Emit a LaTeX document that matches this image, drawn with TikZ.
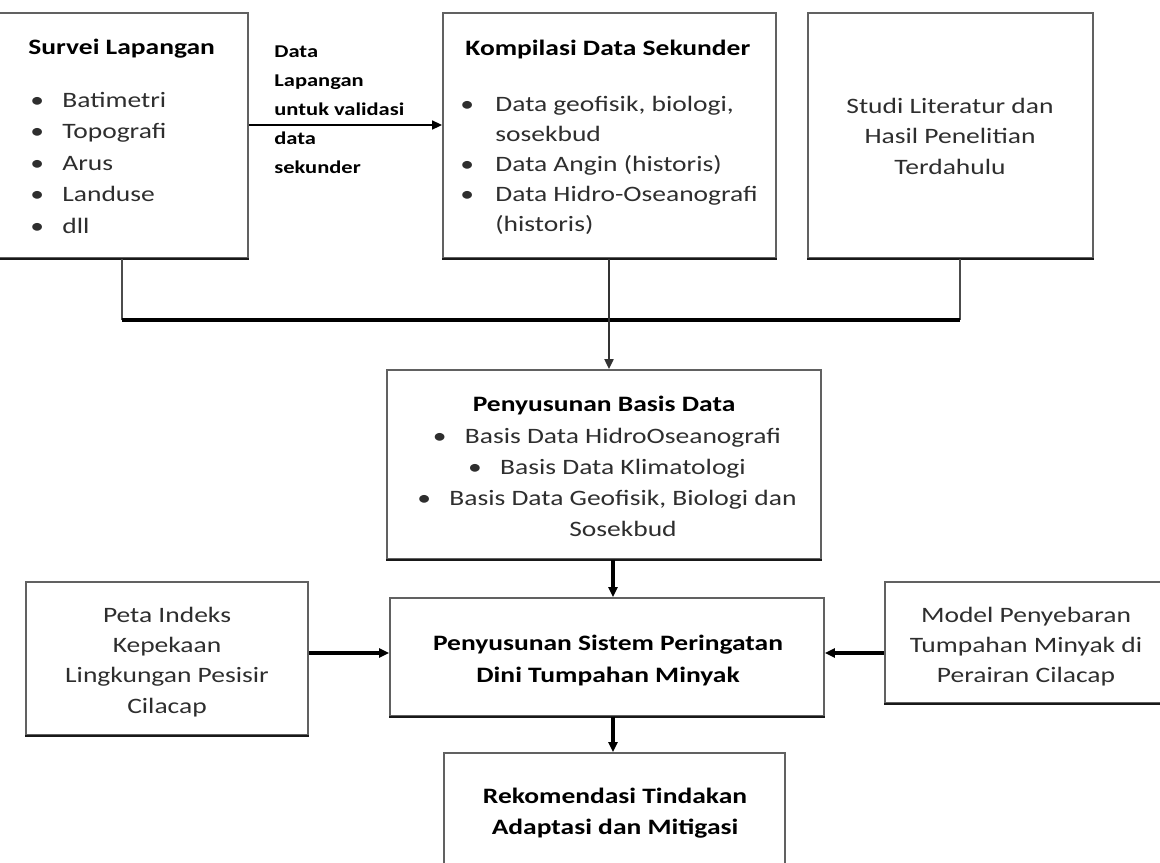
\documentclass[tikz,border=0pt]{standalone}
\usepackage{fontspec}
\setmainfont{Carlito}[FakeStretch=1.25]
\usetikzlibrary{arrows.meta,fit,calc}
\newcommand\dgblt[1]{\makebox[#1][l]{•}}
\begin{document}
\begin{tikzpicture}[x=0.5pt,y=-0.5pt,
  box/.style={draw=black!62, line width=0.9pt, inner sep=0pt},
  boxbottom/.style={draw=black!90, line width=1.4pt},
  lbl/.style={inner sep=0pt, text=black!82},
  ttl/.style={inner sep=0pt, text=black, font=\bfseries},
  thinline/.style={draw=black!70, line width=1pt},
  thickline/.style={draw=black, line width=1.6pt},
  arr/.style={-{Triangle[length=5pt,width=4.5pt]}},
]
\useasboundingbox (0,0) rectangle (1160,862);
\clip (0,0) rectangle (1160,862);

% boxes
\node[box, fit={(-4,13) (248,258)}] (b1) {};
\node[box, fit={(443,13) (776,258)}] (b2) {};
\node[box, fit={(808,13) (1093,258)}] (b3) {};
\node[box, fit={(387,370) (821,559)}] (b4) {};
\node[box, fit={(390,598) (824,716)}] (b5) {};
\node[box, fit={(26,582) (308,735)}] (peta) {};
\node[box, fit={(885,582) (1175,703)}] (model) {};
\node[box, fit={(444,753) (785,880)}] (b6) {};
\foreach \b in {b1,b2,b3,b4,b5,peta,model}
  \draw[boxbottom] (\b.south west) -- (\b.south east);

% texts box 1
\node[ttl, anchor=base west] (t1) at (28,54) {\fontsize{11pt}{15.5pt}\selectfont Survei Lapangan};
\node[lbl, anchor=base west] (l1) at (30,107) {\parbox[t]{110pt}{\fontsize{11pt}{15.75pt}\selectfont
  \dgblt{16pt}Batimetri\\ \dgblt{16pt}Topografi\\ \dgblt{16pt}Arus\\ \dgblt{16pt}Landuse\\ \dgblt{16pt}dll}};

% arrow label
\node[ttl, anchor=base west] (al) at (274,57) {\parbox[t]{90pt}{\fontsize{9pt}{14.5pt}\selectfont
  Data\\ Lapangan\\ untuk validasi\\ data\\ sekunder}};

% box 2
\node[ttl, anchor=base west] (t2) at (465,55) {\fontsize{11pt}{15.5pt}\selectfont Kompilasi Data Sekunder};
\node[lbl, anchor=base west] (l2) at (460,111) {\parbox[t]{160pt}{\fontsize{11pt}{15pt}\selectfont
  \dgblt{17.5pt}Data geofisik, biologi,\\ \hspace*{17.5pt}sosekbud\\ \dgblt{17.5pt}Data Angin (historis)\\
  \dgblt{17.5pt}Data Hidro-Oseanografi\\ \hspace*{17.5pt}(historis)}};

% box 3
\node[lbl, anchor=base] (l3) at (950,113) {\parbox[t]{140pt}{\centering\fontsize{11pt}{15.25pt}\selectfont
  Studi Literatur dan\\ Hasil Penelitian\\ Terdahulu}};

% box 4
\node[ttl, anchor=base] (t4) at (604,411) {\fontsize{11pt}{15.5pt}\selectfont Penyusunan Basis Data};
\node[lbl, anchor=base] (l4) at (607,443) {\parbox[t]{210pt}{\centering\fontsize{11pt}{15.65pt}\selectfont
  \dgblt{16pt}Basis Data HidroOseanografi\\ \dgblt{16pt}Basis Data Klimatologi\\
  \dgblt{16pt}Basis Data Geofisik, Biologi dan\\ \hspace*{16pt}Sosekbud}};

% box 5
\node[ttl, anchor=base] (t5) at (608,650) {\parbox[t]{210pt}{\centering\fontsize{11pt}{16pt}\selectfont
  Penyusunan Sistem Peringatan\\ Dini Tumpahan Minyak}};

% peta
\node[lbl, anchor=base] (lp) at (167,622) {\parbox[t]{140pt}{\centering\fontsize{11pt}{15.2pt}\selectfont
  Peta Indeks\\ Kepekaan\\ Lingkungan Pesisir\\ Cilacap}};

% model
\node[lbl, anchor=base] (lm) at (1026,622) {\parbox[t]{140pt}{\centering\fontsize{11pt}{15pt}\selectfont
  Model Penyebaran\\ Tumpahan Minyak di\\ Perairan Cilacap}};

% rekomendasi
\node[ttl, anchor=base] (t6) at (615,803) {\parbox[t]{170pt}{\centering\fontsize{11pt}{15.5pt}\selectfont
  Rekomendasi Tindakan\\ Adaptasi dan Mitigasi}};

% connectors
\coordinate (j1) at (122,320);
\coordinate (j3) at (960,320);
\coordinate (jm) at (609,320);
\coordinate (ax) at (613,0);
\coordinate (ay) at (0,653);
\coordinate (ay1) at (0,125);

\draw[black, line width=0.8pt, arr] (b1.east |- ay1) -- (b2.west |- ay1);
\draw[thinline] (b1.south -| j1) -- (j1);
\draw[thinline] (b3.south -| j3) -- (j3);
\draw[thickline] (j1) -- (j3);
\draw[thinline, draw=black!80, arr] (b2.south -| jm) -- (b4.north -| jm);
\draw[thickline, arr] (b4.south -| ax) -- (b5.north -| ax);
\draw[thickline, arr] (b5.south -| ax) -- (b6.north -| ax);
\draw[thickline, arr] (peta.east |- ay) -- (b5.west |- ay);
\draw[thickline, arr] (model.west |- ay) -- (b5.east |- ay);
\end{tikzpicture}
\end{document}
